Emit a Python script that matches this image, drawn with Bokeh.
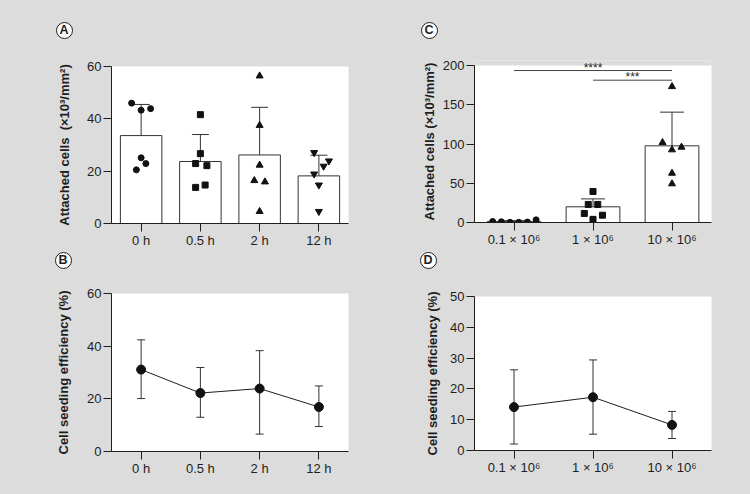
from bokeh.plotting import figure
from bokeh.models import (ColumnDataSource, Whisker, TeeHead, FixedTicker, Label,
                          FactorRange, Range1d, Div, BoxAnnotation)
from bokeh.layouts import row, column
from bokeh.embed import file_html
from bokeh.resources import INLINE

# ---------------- data ----------------
# Panel A: attached cells vs. incubation time
times = ["0 h", "0.5 h", "2 h", "12 h"]
att_mean = [33.6, 23.7, 26.2, 18.2]
att_upper = [45.5, 34.0, 44.4, 26.1]
att_lower = [21.6, 13.6, 7.2, 9.8]
att_0h = [46.0, 43.3, 43.9, 25.1, 22.9, 20.5]
att_05h = [41.6, 26.7, 22.9, 22.1, 14.7, 13.8]
att_2h = [56.4, 37.5, 22.3, 16.4, 15.9, 4.6]
att_12h = [27.1, 23.9, 21.9, 18.9, 14.7, 4.6]
jit_0h = [-0.16, 0.0, 0.16, 0.0, 0.08, -0.08]
jit_05h = [0.0, 0.0, -0.08, 0.11, 0.08, -0.08]
jit_2h = [0.0, 0.0, 0.0, -0.09, 0.09, 0.0]
jit_12h = [-0.08, 0.17, 0.08, -0.08, 0.0, 0.0]

# Panel B: seeding efficiency vs. time
eff_t_mean = [31.1, 22.2, 23.9, 16.9]
eff_t_upper = [42.4, 31.9, 38.3, 24.9]
eff_t_lower = [20.1, 13.0, 6.6, 9.5]

# Panel C: attached cells vs. seeding density
densities = ["0.1 × 10⁶", "1 × 10⁶", "10 × 10⁶"]
den_mean = [1.1, 20.0, 97.7]
den_upper = [2.3, 30.1, 140.6]
den_lower = [0.0, 9.9, 51.4]
den_01 = [1.3, 0.9, 0.2, 0.2, 0.6, 3.4]
den_1 = [39.5, 23.0, 23.0, 11.5, 9.3, 4.0]
den_10 = [173.2, 101.9, 96.0, 92.6, 62.8, 49.3]
jit_01 = [-0.27, -0.16, -0.05, 0.06, 0.17, 0.28]
jit_1 = [0.0, -0.06, 0.06, -0.11, 0.12, 0.0]
jit_10 = [0.0, -0.12, 0.12, 0.0, 0.0, 0.0]
sig_from = ["0.1 × 10⁶", "1 × 10⁶"]
sig_to = ["10 × 10⁶", "10 × 10⁶"]
sig_y = [193.6, 181.3]
sig_text = ["****", "***"]

# Panel D: seeding efficiency vs. density
eff_d_mean = [14.1, 17.3, 8.3]
eff_d_upper = [26.2, 29.4, 12.7]
eff_d_lower = [2.1, 5.3, 3.9]

panel_names = ["A", "B", "C", "D"]

# ---------------- style ----------------
FONT = "Liberation Sans"
INK = "#1e1e1e"
BG = "#dcdcdc"
BGSTYLE = {"background-color": BG}
LABEL_A = "Attached cells\u00a0 (×10³/mm²)"
LABEL_C = "Attached cells (×10³/mm²)"
LABEL_EFF = "Cell seeding efficiency (%)"


def make_fig(factors, y_end, yticks, ylabel, lab_standoff, fh, bl, br, bt, bb):
    p = figure(x_range=FactorRange(*factors), y_range=Range1d(0, y_end),
               frame_width=237, frame_height=fh,
               min_border_left=bl, min_border_right=br,
               min_border_top=bt, min_border_bottom=bb,
               output_backend="svg", toolbar_location=None, styles=BGSTYLE)
    p.background_fill_color = "white"
    p.border_fill_color = BG
    p.outline_line_color = None
    p.xgrid.grid_line_color = None
    p.ygrid.grid_line_color = None
    for ax in (p.xaxis[0], p.yaxis[0]):
        ax.axis_line_color = INK
        ax.major_tick_line_color = INK
        ax.minor_tick_line_color = None
        ax.major_tick_in = 0
        ax.major_tick_out = 8
        ax.major_label_text_font = FONT
        ax.major_label_text_font_size = "13px"
        ax.major_label_text_color = INK
    p.xaxis.major_label_standoff = 1
    p.yaxis.major_label_standoff = 2
    p.yaxis.ticker = FixedTicker(ticks=yticks)
    p.yaxis.bounds = (yticks[0], yticks[-1])
    p.yaxis.axis_label = ylabel
    p.yaxis.axis_label_text_font = FONT
    p.yaxis.axis_label_text_font_style = "bold"
    p.yaxis.axis_label_text_font_size = "13px"
    p.yaxis.axis_label_text_color = INK
    p.yaxis.axis_label_standoff = lab_standoff
    return p


def letter_strip(letter, height, cx, cy):
    """A strip above a panel carrying the circled panel letter."""
    d = 17
    html = (
        f'<div style="position:relative;width:375px;height:{height}px;margin:0;padding:0;">'
        f'<div style="position:absolute;left:{cx - d / 2}px;top:{cy - d / 2}px;'
        f'width:{d}px;height:{d}px;box-sizing:border-box;'
        f'border:1.4px solid {INK};border-radius:50%;background:#ffffff;'
        f"font-family:'{FONT}',Arial,sans-serif;font-weight:700;font-size:12.5px;"
        f'line-height:{d - 3}px;text-align:center;color:{INK};">{letter}</div></div>'
    )
    return Div(text=html, width=375, height=height, margin=0, styles=BGSTYLE)


def whiskers(p, factors, upper, lower, head, color="#333333"):
    src = ColumnDataSource(dict(x=factors, upper=upper, lower=lower))
    w = Whisker(source=src, base="x", upper="upper", lower="lower",
                line_color=color, line_width=1,
                upper_head=TeeHead(size=head, line_color=color, line_width=1),
                lower_head=TeeHead(size=head, line_color=color, line_width=1))
    p.add_layout(w)


def jittered(factors, name, jit):
    i = factors.index(name)
    return [i + 0.5 + j for j in jit]


# ---------------- Panel A ----------------
pa = make_fig(times, 60, [0, 20, 40, 60], LABEL_A, 12, 157, 111, 27, 20, 26)
pa.vbar(x=times, top=att_mean, width=0.7, fill_color="white",
        line_color="#333333", line_width=1)
whiskers(pa, times, att_upper, att_lower, 17)
for name, vals, jit, mk, sz in [("0 h", att_0h, jit_0h, "circle", 6),
                                ("0.5 h", att_05h, jit_05h, "square", 6),
                                ("2 h", att_2h, jit_2h, "triangle", 7),
                                ("12 h", att_12h, jit_12h, "inverted_triangle", 7)]:
    pa.scatter(x=jittered(times, name, jit), y=vals, marker=mk, size=sz,
               fill_color="#111111", line_color="#111111")
la = letter_strip(panel_names[0], 46, 64, 30)

# ---------------- Panel C ----------------
# frame reaches a little above 200 so that the significance stars are not clipped;
# the part above the axis end is painted back to the page grey
c_ticks = [0, 50, 100, 150, 200]
pc = make_fig(densities, 206.4, c_ticks, LABEL_C, 3, 162, 99, 39, 14, 27)
pc.add_layout(BoxAnnotation(bottom=c_ticks[-1], top=250, left=-1, right=len(densities) + 1,
                            fill_color=BG, fill_alpha=1.0, line_alpha=0,
                            level="underlay"))
pc.vbar(x=densities, top=den_mean, width=0.68, fill_color="white",
        line_color="#333333", line_width=1)
whiskers(pc, densities, den_upper, den_lower, 24)
for name, vals, jit, mk, sz in [("0.1 × 10⁶", den_01, jit_01, "circle", 6),
                                ("1 × 10⁶", den_1, jit_1, "square", 6),
                                ("10 × 10⁶", den_10, jit_10, "triangle", 7)]:
    pc.scatter(x=jittered(densities, name, jit), y=vals, marker=mk, size=sz,
               fill_color="#111111", line_color="#111111")
pc.segment(x0=sig_from, x1=sig_to, y0=sig_y, y1=sig_y, line_color="#444444", line_width=1)
for a, b, yv, t in zip(sig_from, sig_to, sig_y, sig_text):
    xm = (densities.index(a) + densities.index(b)) / 2 + 0.5
    pc.add_layout(Label(x=xm, y=yv, y_offset=3, text=t, text_font=FONT,
                        text_font_size="12px", text_color=INK, text_align="center",
                        text_baseline="alphabetic"))
lc = letter_strip(panel_names[2], 46, 54, 30)

# ---------------- Panel B ----------------
pb = make_fig(times, 60, [0, 20, 40, 60], LABEL_EFF, 13, 158, 111, 27, 13, 44)
whiskers(pb, times, eff_t_upper, eff_t_lower, 8)
pb.line(x=times, y=eff_t_mean, line_color=INK, line_width=1)
pb.scatter(x=times, y=eff_t_mean, marker="circle", size=9,
           fill_color="#111111", line_color="#111111")
lb = letter_strip(panel_names[1], 30, 63, 10)

# ---------------- Panel D ----------------
pd_ = make_fig(densities, 50, [0, 10, 20, 30, 40, 50], LABEL_EFF, 7, 154, 99, 39, 16, 45)
whiskers(pd_, densities, eff_d_upper, eff_d_lower, 8)
pd_.line(x=densities, y=eff_d_mean, line_color=INK, line_width=1)
pd_.scatter(x=densities, y=eff_d_mean, marker="circle", size=9,
            fill_color="#111111", line_color="#111111")
ld = letter_strip(panel_names[3], 30, 53, 10)

layout = column(row(column(la, pa, styles=BGSTYLE), column(lc, pc, styles=BGSTYLE),
                    styles=BGSTYLE),
                row(column(lb, pb, styles=BGSTYLE), column(ld, pd_, styles=BGSTYLE),
                    styles=BGSTYLE),
                styles=BGSTYLE)
open("out.html", "w").write(file_html(layout, INLINE))
